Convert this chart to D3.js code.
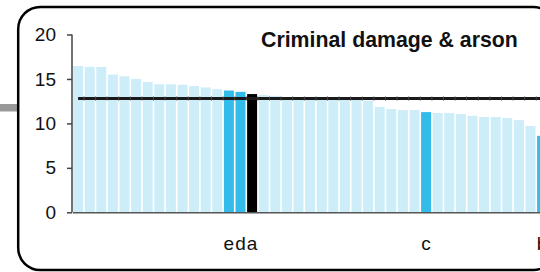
<!DOCTYPE html>
<html>
<head>
<meta charset="utf-8">
<script src="https://cdn.jsdelivr.net/npm/d3@7"></script>
<style>
  body { margin: 0; background: #fff; }
  svg { display: block; font-family: "Liberation Sans", Arial, sans-serif; }
</style>
</head>
<body>
<div id="chart"></div>
<script>
// values, sorted high to low
const values = [16.45, 16.35, 16.35, 15.5, 15.3, 15.0, 14.65, 14.4, 14.4, 14.35,
  14.2, 14.05, 13.85, 13.7, 13.55, 13.3, 13.2, 13.1, 12.95, 12.9,
  12.9, 12.85, 12.8, 12.75, 12.7, 12.55, 11.85, 11.62, 11.5, 11.5,
  11.27, 11.17, 11.17, 11.05, 10.85, 10.72, 10.72, 10.6, 10.37, 9.7, 8.6];
const labels = values.map(() => "");
labels[13] = "e"; labels[14] = "d"; labels[15] = "a"; labels[30] = "c"; labels[40] = "b";
const highlight = [13, 14, 30, 40];
const selected = 15;
const average = 12.8;
const yTicks = [0, 5, 10, 15, 20];
const title = "Criminal damage & arson";

const width = 540, height = 272;
const categories = values.map((d, i) => i);

const svg = d3.select("#chart").append("svg")
  .attr("width", width)
  .attr("height", height);

const x = d3.scaleBand()
  .domain(categories)
  .range([72.3, 72.3 + values.length * 11.6])
  .paddingInner(0.14)
  .paddingOuter(0.07);

const y = d3.scaleLinear()
  .domain([0, 20])
  .range([212.3, 34.5]);

// connector from neighbouring panel
svg.append("rect")
  .attr("x", 0).attr("y", 104)
  .attr("width", 19).attr("height", 7.5)
  .attr("fill", "#999");

// bars
svg.append("g")
  .selectAll("rect")
  .data(values)
  .enter().append("rect")
    .attr("x", (d, i) => x(i))
    .attr("y", d => y(d))
    .attr("width", x.bandwidth())
    .attr("height", d => y(0) - y(d))
    .attr("fill", (d, i) => i === selected ? "#000" : highlight.includes(i) ? "#33bbea" : "#cdedf9");

// average line with small markers
const avgLine = svg.append("g");
avgLine.append("line")
  .attr("x1", x(0) + x.bandwidth() / 2)
  .attr("x2", x(values.length - 1) + x.bandwidth() / 2)
  .attr("y1", y(average)).attr("y2", y(average))
  .attr("stroke", "#1a1a1a").attr("stroke-width", 3);
avgLine.selectAll("rect")
  .data(categories)
  .enter().append("rect")
    .attr("x", d => x(d) + x.bandwidth() + 0.3)
    .attr("y", y(average) - 2)
    .attr("width", 1).attr("height", 4)
    .attr("fill", "#444");

// y axis
const yAxis = svg.append("g")
  .attr("transform", "translate(72,0)")
  .call(d3.axisLeft(y).tickValues(yTicks).tickSize(5).tickPadding(11));
yAxis.selectAll("text").attr("font-size", 19).attr("fill", "#111")
  .attr("font-family", "Liberation Sans, Arial, sans-serif");
yAxis.selectAll("line, path").attr("stroke", "#444").attr("stroke-width", 1.5);
yAxis.select(".domain").attr("d", "M0," + y(20) + "V" + y(0));

// x axis
const xAxis = svg.append("g")
  .attr("transform", "translate(0," + y(0) + ")")
  .call(d3.axisBottom(x).tickSize(0).tickPadding(24).tickFormat(i => labels[i]));
xAxis.selectAll("text").attr("font-size", 19).attr("fill", "#111")
  .attr("font-family", "Liberation Sans, Arial, sans-serif");
xAxis.select(".domain").attr("stroke", "#555").attr("stroke-width", 1.5);

// title
svg.append("text")
  .attr("x", 261).attr("y", 46.5)
  .attr("font-size", 21.3).attr("font-weight", "bold")
  .attr("fill", "#111")
  .text(title);

// frame
svg.append("rect")
  .attr("x", 18.2).attr("y", 7)
  .attr("width", 537).attr("height", 263)
  .attr("rx", 22).attr("ry", 22)
  .attr("fill", "none")
  .attr("stroke", "#000").attr("stroke-width", 2.5);
</script>
</body>
</html>
